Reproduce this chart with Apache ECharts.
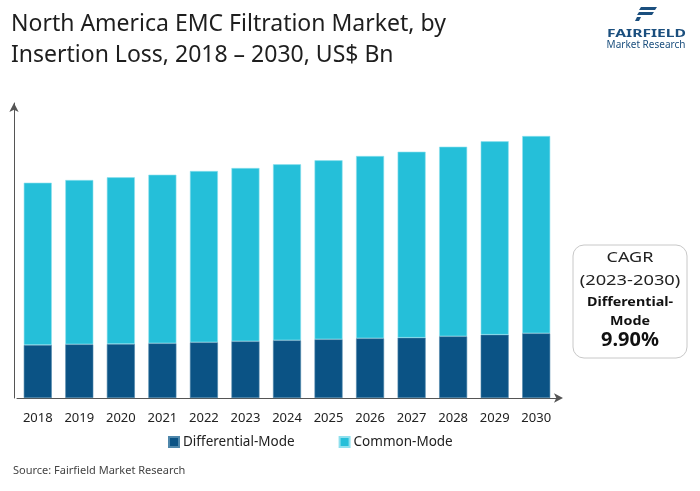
<!DOCTYPE html>
<html>
<head>
<meta charset="utf-8">
<script src="https://cdn.jsdelivr.net/npm/echarts@6/dist/echarts.min.js"></script>
<style>html,body{margin:0;padding:0;background:#fff;}#c{width:700px;height:491px;}</style>
</head>
<body>
<div id="c"></div>
<script>
var years = ['2018','2019','2020','2021','2022','2023','2024','2025','2026','2027','2028','2029','2030'];
var differentialMode = [0.530,0.537,0.540,0.547,0.557,0.567,0.577,0.587,0.597,0.603,0.617,0.633,0.647];
var commonMode = [1.623,1.643,1.667,1.686,1.713,1.733,1.760,1.790,1.823,1.860,1.896,1.934,1.973];
var seriesNames = ['Differential-Mode','Common-Mode'];
var cagrLines = ['CAGR','(2023-2030)','Differential-','Mode','9.90%'];

var FONT = 'Noto Sans';
var chart = echarts.init(document.getElementById('c'), null, {renderer:'canvas'});
chart.setOption({
  animation:false,
  backgroundColor:'#fff',
  title:{
    text:'North America EMC Filtration Market, by\nInsertion Loss, 2018 \u2013 2030, US$ Bn',
    left:6, top:4,
    textStyle:{fontFamily:FONT, fontSize:23, fontWeight:'normal', color:'#1e1e1e', lineHeight:31}
  },
  legend:{
    data:seriesNames,
    top:430, left:163,
    itemWidth:10, itemHeight:10, itemGap:44,
    icon:'rect',
    textStyle:{fontFamily:FONT, fontSize:13.5, color:'#222', padding:[0,0,0,-1]}
  },
  grid:{left:17, right:143, top:103, bottom:93, containLabel:false},
  xAxis:{
    type:'category', data:years,
    axisLine:{show:true, lineStyle:{color:'#555', width:1}, symbol:['none','arrow'], symbolSize:[7,9], symbolOffset:[0,6]},
    axisTick:{show:false},
    axisLabel:{fontFamily:FONT, fontSize:13, color:'#222', margin:14}
  },
  yAxis:{
    type:'value', min:0, max:2.95, offset:3,
    axisLine:{show:true, lineStyle:{color:'#555', width:1}, symbol:['none','arrow'], symbolSize:[7,9]},
    axisTick:{show:false}, axisLabel:{show:false}, splitLine:{show:false}
  },
  series:[
    {name:seriesNames[0], type:'bar', stack:'t', data:differentialMode, barWidth:28,
     itemStyle:{color:'#0b5385', borderColor:'#4f87ab', borderWidth:0.6}},
    {name:seriesNames[1], type:'bar', stack:'t', data:commonMode, barWidth:28,
     itemStyle:{color:'#25bfd9', borderColor:'#8fe0ee', borderWidth:0.6}}
  ],
  graphic:[
    {type:'rect', shape:{x:573, y:245, width:114, height:113, r:11}, style:{fill:'#fff', stroke:'#c8c8c8', lineWidth:1}},
    {type:'text', x:630, y:258, scaleX:1.2, style:{text:cagrLines[0], fontFamily:FONT, fontSize:15, fill:'#222', align:'center', verticalAlign:'middle'}},
    {type:'text', x:630, y:281, scaleX:1.22, style:{text:cagrLines[1], fontFamily:FONT, fontSize:15, fill:'#222', align:'center', verticalAlign:'middle'}},
    {type:'text', x:630, y:302, scaleX:1.1, style:{text:cagrLines[2], fontFamily:FONT, fontSize:13, fontWeight:'bold', fill:'#111', align:'center', verticalAlign:'middle'}},
    {type:'text', x:630, y:321, scaleX:1.1, style:{text:cagrLines[3], fontFamily:FONT, fontSize:13, fontWeight:'bold', fill:'#111', align:'center', verticalAlign:'middle'}},
    {type:'text', x:630, y:341, scaleX:1.05, style:{text:cagrLines[4], fontFamily:FONT, fontSize:19, fontWeight:'bold', fill:'#111', align:'center', verticalAlign:'middle'}},
    {type:'text', x:13, y:471, style:{text:'Source: Fairfield Market Research', fontFamily:FONT, fontSize:11, fill:'#444', verticalAlign:'middle'}},
    {type:'polygon', shape:{points:[[641,7],[657,7],[655,10],[639,10]]}, style:{fill:'#1b4f7e'}},
    {type:'polygon', shape:{points:[[639,12],[654,12],[652,15],[637,15]]}, style:{fill:'#1b4f7e'}},
    {type:'polygon', shape:{points:[[637,17],[641,17],[639,21],[635,21]]}, style:{fill:'#1b4f7e'}},
    {type:'text', x:646.5, y:34, scaleX:1.42, style:{text:'FAIRFIELD', fontFamily:FONT, fontSize:11, fontWeight:'bold', fill:'#1b4f7e', align:'center', verticalAlign:'middle'}},
    {type:'text', x:646, y:45, style:{text:'Market Research', fontFamily:FONT, fontSize:10, fill:'#1b4f7e', align:'center', verticalAlign:'middle'}}
  ]
});
</script>
</body>
</html>
